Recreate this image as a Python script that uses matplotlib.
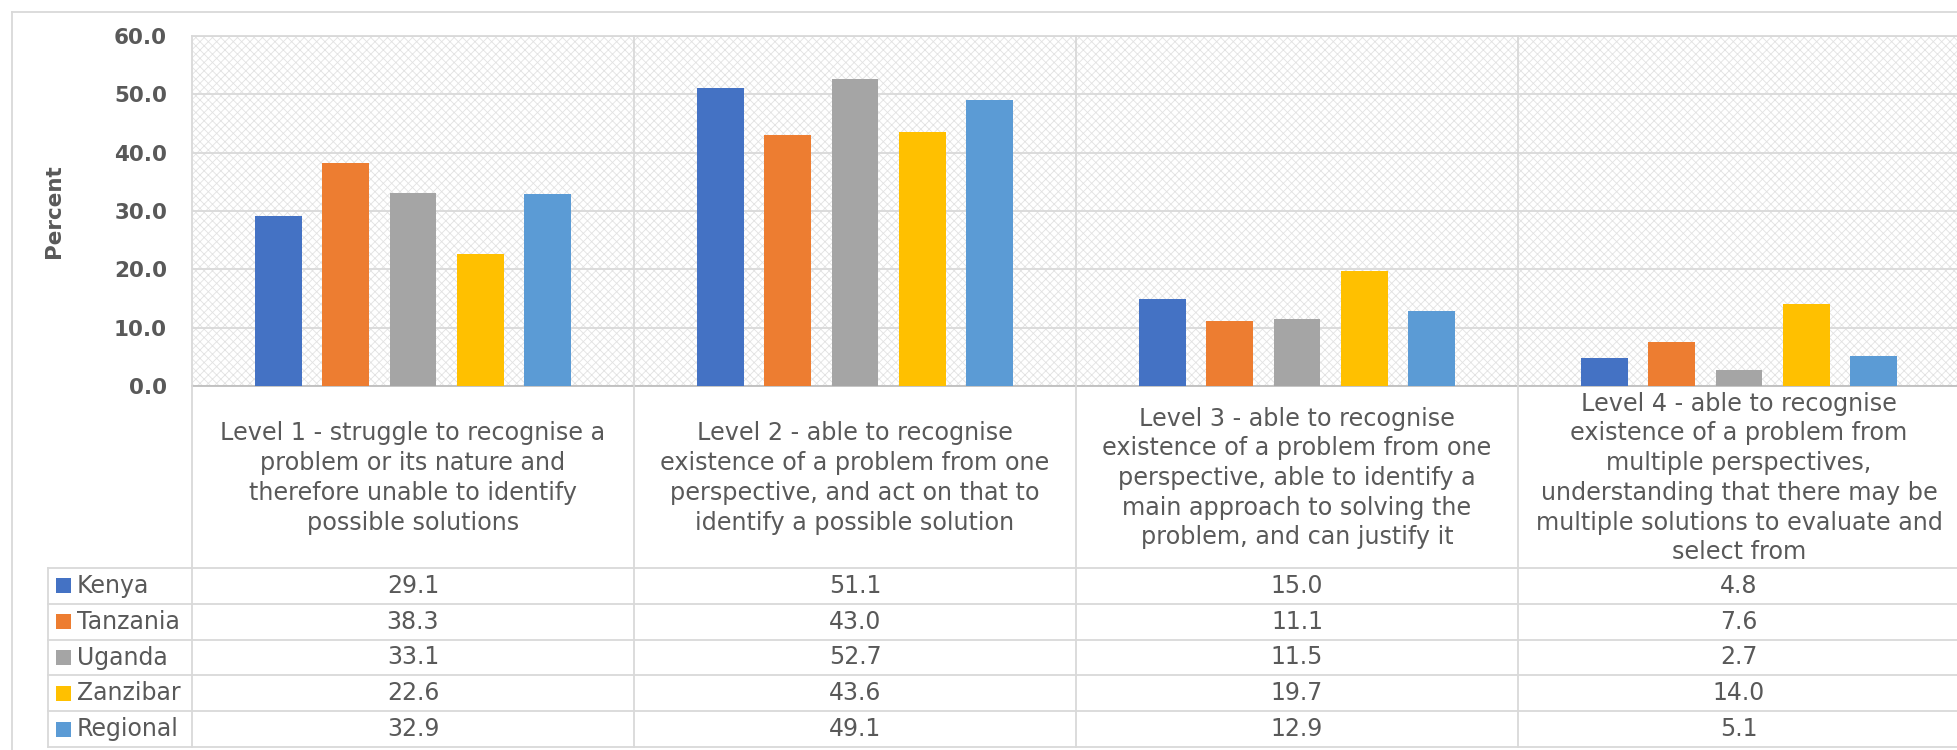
import matplotlib.pyplot as plt
import numpy as np
from matplotlib.patches import Rectangle
from matplotlib.transforms import blended_transform_factory

plt.rcParams['font.family'] = ['DejaVu Sans']
plt.rcParams['hatch.linewidth'] = 0.6

# data
levels = [
    "Level 1 - struggle to recognise a\nproblem or its nature and\ntherefore unable to identify\npossible solutions",
    "Level 2 - able to recognise\nexistence of a problem from one\nperspective, and act on that to\nidentify a possible solution",
    "Level 3 - able to recognise\nexistence of a problem from one\nperspective, able to identify a\nmain approach to solving the\nproblem, and can justify it",
    "Level 4 - able to recognise\nexistence of a problem from\nmultiple perspectives,\nunderstanding that there may be\nmultiple solutions to evaluate and\nselect from",
]
countries = ["Kenya", "Tanzania", "Uganda", "Zanzibar", "Regional"]
kenya = [29.1, 51.1, 15.0, 4.8]
tanzania = [38.3, 43.0, 11.1, 7.6]
uganda = [33.1, 52.7, 11.5, 2.7]
zanzibar = [22.6, 43.6, 19.7, 14.0]
regional = [32.9, 49.1, 12.9, 5.1]
yticks = [0, 10, 20, 30, 40, 50, 60]

series = [kenya, tanzania, uganda, zanzibar, regional]
colors = ['#4472C4', '#ED7D31', '#A5A5A5', '#FFC000', '#5B9BD5']
TXT = '#595959'
LINE = '#d9d9d9'
FS_TICK = 15.5
FS_HEAD = 17.2
FS_TAB = 17

# layout in pixels
W, H = 1957, 750
plot_l, plot_r, plot_t, plot_b = 192, 1960, 36, 386
head_b = 568
row_h = 35.8

fig = plt.figure(figsize=(W / 100, H / 100), dpi=100)
ax = fig.add_axes([plot_l / W, 1 - plot_b / H, (plot_r - plot_l) / W, (plot_b - plot_t) / H])

# patterned plot background
ax.add_patch(Rectangle((0, 0), 1, 1, transform=ax.transAxes, facecolor='white',
                       edgecolor='#e2e2e2', hatch='xxxx', lw=0, zorder=0))

x = np.arange(len(levels)) + 0.5
step = 0.152
bw = 0.106
for i, (vals, c) in enumerate(zip(series, colors)):
    ax.bar(x + (i - 2) * step, vals, width=bw, color=c, zorder=3)

ax.set_xlim(0, len(levels))
ax.set_ylim(0, 60)
ax.set_yticks(yticks)
ax.set_yticklabels([f"{v:.1f}" for v in yticks], color=TXT, fontsize=FS_TICK, fontweight='bold')
ax.tick_params(axis='y', length=0, pad=18)
ax.set_xticks([])
ax.yaxis.grid(True, color=LINE, lw=1.3, zorder=1)
ax.set_axisbelow(True)
for s in ['top', 'left']:
    ax.spines[s].set_color(LINE)
    ax.spines[s].set_linewidth(1.3)
ax.spines['right'].set_visible(False)
ax.spines['bottom'].set_color('#bfbfbf')
ax.spines['bottom'].set_linewidth(1.3)
ax.set_ylabel("Percent", color=TXT, fontsize=FS_TICK, fontweight='bold', labelpad=36)

# overlay in pixel coordinates for the data table
lay = fig.add_axes([0, 0, 1, 1], facecolor='none')
lay.set_xlim(0, W)
lay.set_ylim(H, 0)
lay.axis('off')
blend = blended_transform_factory(ax.transData, lay.transData)

# outer chart border
lay.plot([12, 12], [12, H], color=LINE, lw=1.3)
lay.plot([12, W], [12, 12], color=LINE, lw=1.3)

# column separators
tab_b = head_b + row_h * len(countries)
for k in range(1, len(levels)):
    lay.plot([k, k], [plot_t, tab_b], color=LINE, lw=1.3, transform=blend)
lay.plot([0, 0], [plot_b, tab_b], color=LINE, lw=1.3, transform=blend)
lay.plot([48, 48], [head_b, tab_b], color=LINE, lw=1.3)

# row lines
for r in range(len(countries) + 1):
    y = head_b + r * row_h
    lay.plot([48, W], [y, y], color=LINE, lw=1.3)

# header text
for xi, lab in zip(x, levels):
    lay.text(xi, (plot_b + head_b) / 2 + 1, lab, transform=blend, ha='center', va='center',
             multialignment='center', fontsize=FS_HEAD, color=TXT, linespacing=1.3)

# rows
for r, (name, vals, c) in enumerate(zip(countries, series, colors)):
    yc = head_b + (r + 0.5) * row_h
    lay.add_patch(Rectangle((56, yc - 7.5), 15, 15, facecolor=c, lw=0))
    lay.text(77, yc, name, ha='left', va='center', fontsize=FS_TAB, color=TXT)
    for xi, v in zip(x, vals):
        lay.text(xi, yc, f"{v:.1f}", transform=blend, ha='center', va='center', fontsize=FS_TAB, color=TXT)

fig.savefig("out.png", dpi=100)
